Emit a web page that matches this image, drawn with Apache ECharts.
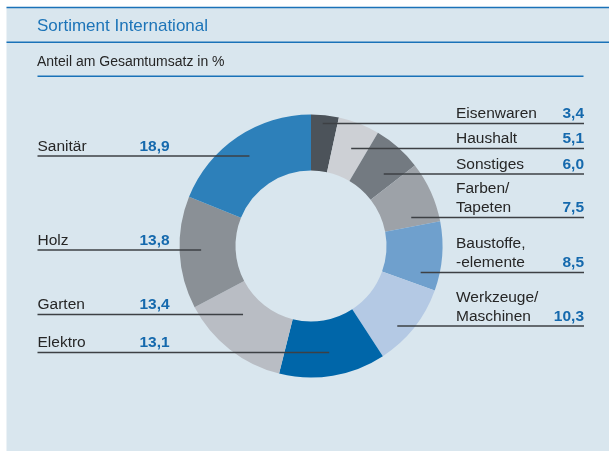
<!DOCTYPE html>
<html>
<head>
<meta charset="utf-8">
<script src="https://cdn.jsdelivr.net/npm/echarts@6/dist/echarts.min.js"></script>
<style>
html,body{margin:0;padding:0;background:#fff;}
#chart{width:609px;height:451px;}
</style>
</head>
<body>
<div id="chart"></div>
<script>
// ---- data ----
const categories = ['Eisenwaren', 'Haushalt', 'Sonstiges', 'Farben/\nTapeten', 'Baustoffe,\n-elemente', 'Werkzeuge/\nMaschinen', 'Elektro', 'Garten', 'Holz', 'Sanitär'];
const values = [3.4, 5.1, 6.0, 7.5, 8.5, 10.3, 13.1, 13.4, 13.8, 18.9];
const sliceColors = ['#4c535a', '#cdd0d5', '#737a81', '#9da2a8', '#6fa0cd', '#b4c9e4', '#0066a9', '#b9bdc4', '#8a9096', '#2d80ba'];
const titleText = 'Sortiment International';
const subtitleText = 'Anteil am Gesamtumsatz in %';

// ---- layout ----
const CX = 311, CY = 246, R_IN = 75.5, R_OUT = 131.5, R_ANCHOR = 110;
const labelSide = ['r', 'r', 'r', 'r', 'r', 'r', 'l', 'l', 'l', 'l'];
const labelLineY = [123.5, 148.5, 174, 217.5, 272.5, 326, 352.5, 314.5, 250, 156];
const LEFT_X = 37.5, RIGHT_X = 456, RIGHT_END = 584;
const FONT = "'Liberation Sans', Arial, sans-serif";
const PANEL = '#d9e6ee';
const BLUE = '#1a72b8';

const fmt = v => v.toFixed(1).replace('.', ',');

// mid angles (fallback) computed from values
const total = values.reduce((a, b) => a + b, 0);
const midAngles = [];
{
  let acc = 0;
  values.forEach(v => { const mid = acc + v / 2; midAngles.push(90 - mid / total * 360); acc += v; });
}

const pieData = categories.map((c, i) => ({ name: c, value: values[i] }));

const chart = echarts.init(document.getElementById('chart'), null, { renderer: 'canvas' });

chart.setOption({
  backgroundColor: '#ffffff',
  animation: false,
  graphic: [
    { type: 'rect', z: -10, shape: { x: 6.5, y: 7.5, width: 603, height: 444 }, style: { fill: PANEL } },
    { type: 'line', z: 1, shape: { x1: 6.5, y1: 7.5, x2: 609, y2: 7.5 }, style: { stroke: BLUE, lineWidth: 1.5 } },
    { type: 'line', z: 1, shape: { x1: 6.5, y1: 42.3, x2: 609, y2: 42.3 }, style: { stroke: BLUE, lineWidth: 1.5 } },
    { type: 'line', z: 1, shape: { x1: 37.5, y1: 76.3, x2: 583.5, y2: 76.3 }, style: { stroke: BLUE, lineWidth: 1.5 } }
  ],
  title: [
    { text: titleText, left: 37, top: 17, padding: 0,
      textStyle: { fontFamily: FONT, fontSize: 17, fontWeight: 'normal', color: '#1c74b8', lineHeight: 19 } },
    { text: subtitleText, left: 37, top: 54, padding: 0,
      textStyle: { fontFamily: FONT, fontSize: 14, fontWeight: 'normal', color: '#262626', lineHeight: 17 } }
  ],
  series: [{
    type: 'pie',
    z: 2,
    center: [CX, CY],
    radius: [R_IN, R_OUT],
    startAngle: 90,
    clockwise: true,
    silent: true,
    color: sliceColors,
    itemStyle: { borderWidth: 0 },
    label: { show: false },
    labelLine: { show: false },
    data: pieData
  }, {
    type: 'pie',
    z: 5,
    center: [CX, CY],
    radius: [R_IN, R_OUT],
    startAngle: 90,
    clockwise: true,
    silent: true,
    avoidLabelOverlap: false,
    itemStyle: { color: 'rgba(0,0,0,0)', borderWidth: 0 },
    data: pieData,
    label: {
      show: true,
      position: 'outside',
      fontFamily: FONT,
      formatter: p => {
        const i = p.dataIndex;
        const lines = categories[i].split('\n');
        const v = fmt(values[i]);
        const tag = labelSide[i] === 'r' ? 'r' : 'l';
        const vtag = labelSide[i] === 'r' ? 'vr' : 'vl';
        if (lines.length === 2) return '{' + tag + '|' + lines[0] + '}\n{' + tag + '|' + lines[1] + '}{' + vtag + '|' + v + '}';
        return '{' + tag + '|' + lines[0] + '}{' + vtag + '|' + v + '}';
      },
      rich: {
        r: { fontFamily: FONT, fontSize: 15.5, color: '#262626', width: 100, align: 'left', lineHeight: 19 },
        vr: { fontFamily: FONT, fontSize: 15.5, fontWeight: 'bold', color: '#1569ad', width: 28, align: 'right', lineHeight: 19 },
        l: { fontFamily: FONT, fontSize: 15.5, color: '#262626', width: 102, align: 'left', lineHeight: 19 },
        vl: { fontFamily: FONT, fontSize: 15.5, fontWeight: 'bold', color: '#1569ad', width: 30, align: 'left', lineHeight: 19 }
      }
    },
    labelLine: { show: true, length: 10, length2: 10, smooth: false, lineStyle: { color: '#3d4044', width: 1.4 } },
    labelLayout: function (params) {
      const i = params.dataIndex;
      let ux, uy;
      const p0 = params.labelLinePoints && params.labelLinePoints[0];
      if (p0) {
        const dx = p0[0] - CX, dy = p0[1] - CY, len = Math.sqrt(dx * dx + dy * dy) || 1;
        ux = dx / len; uy = dy / len;
      } else {
        const a = midAngles[i] * Math.PI / 180;
        ux = Math.cos(a); uy = -Math.sin(a);
      }
      const sx = CX + ux * R_ANCHOR;
      const y = labelLineY[i];
      if (labelSide[i] === 'r') {
        return { x: RIGHT_X, y: y, align: 'left', verticalAlign: 'bottom', hideOverlap: false,
          labelLinePoints: [[sx, y], [(sx + RIGHT_END) / 2, y], [RIGHT_END, y]] };
      }
      return { x: LEFT_X, y: y, align: 'left', verticalAlign: 'bottom', hideOverlap: false,
        labelLinePoints: [[sx, y], [(sx + LEFT_X) / 2, y], [LEFT_X, y]] };
    }
  }]
});
</script>
</body>
</html>
